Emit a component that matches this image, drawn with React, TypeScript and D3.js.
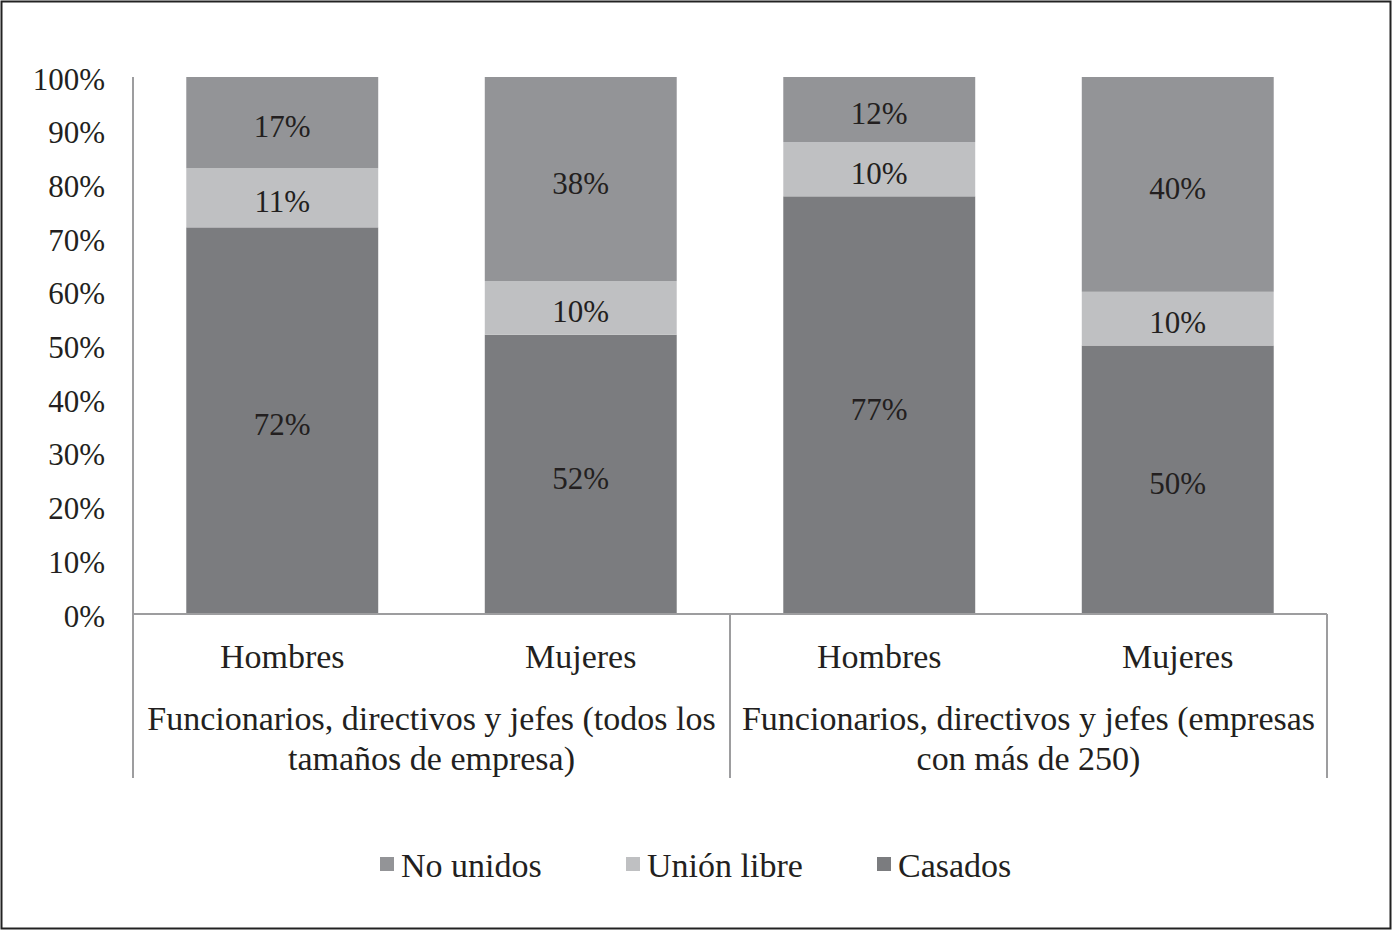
import React, { useEffect, useRef } from "react";
import * as d3 from "d3";

const categories = ["Hombres", "Mujeres", "Hombres", "Mujeres"];
const groupLabels = [
  ["Funcionarios, directivos y jefes (todos los", "tamaños de empresa)"],
  ["Funcionarios, directivos y jefes (empresas", "con más de 250)"],
];
const seriesNames = ["Casados", "Unión libre", "No unidos"];
const casados = [72, 52, 77, 50];
const unionLibre = [11, 10, 10, 10];
const noUnidos = [17, 38, 12, 40];
const yTicks = [0, 0.1, 0.2, 0.3, 0.4, 0.5, 0.6, 0.7, 0.8, 0.9, 1];
const legendOrder = ["No unidos", "Unión libre", "Casados"];
const colors: Record<string, string> = {
  "Casados": "#7b7c7f",
  "Unión libre": "#bfc0c2",
  "No unidos": "#939497",
};

const W = 1392;
const H = 930;
const FONT = "'Liberation Serif', 'DejaVu Serif', serif";

export default function App() {
  const ref = useRef<SVGSVGElement>(null);
  useEffect(() => {
    const svg = d3.select(ref.current);
    svg.selectAll("*").remove();
    svg.append("rect").attr("x", 1.5).attr("y", 1.5).attr("width", W - 3).attr("height", H - 3)
      .attr("fill", "white").attr("stroke", "#222").attr("stroke-width", 2);

    const left = 133, right = 1327, top = 77, bottom = 614;
    const x = d3.scaleBand<number>().domain(d3.range(categories.length)).range([left, right]).padding(0);
    const y = d3.scaleLinear().domain([0, 1]).range([bottom, top]);
    const barW = x.bandwidth() * 0.643;

    const rows = categories.map((c, i) => ({
      i,
      "Casados": casados[i],
      "Unión libre": unionLibre[i],
      "No unidos": noUnidos[i],
    }));
    const stack = d3.stack<any>().keys(seriesNames).offset(d3.stackOffsetExpand);
    const series = stack(rows);

    series.forEach((s) => {
      const g = svg.append("g");
      s.forEach((d, j) => {
        const cx = x(j)! + x.bandwidth() / 2;
        g.append("rect")
          .attr("x", cx - barW / 2)
          .attr("y", y(d[1]))
          .attr("width", barW)
          .attr("height", y(d[0]) - y(d[1]))
          .attr("fill", colors[s.key]);
        g.append("text")
          .attr("x", cx)
          .attr("y", (y(d[0]) + y(d[1])) / 2 + 4)
          .attr("text-anchor", "middle")
          .attr("dominant-baseline", "central")
          .attr("font-family", FONT)
          .attr("font-size", 31)
          .attr("fill", "#231f20")
          .text((rows[j] as any)[s.key] + "%");
      });
    });

    // axes
    const axisColor = "#9d9d9f";
    svg.append("line").attr("x1", left).attr("x2", left).attr("y1", top).attr("y2", 778)
      .attr("stroke", axisColor).attr("stroke-width", 2);
    svg.append("line").attr("x1", left).attr("x2", right).attr("y1", bottom).attr("y2", bottom)
      .attr("stroke", axisColor).attr("stroke-width", 2);
    [left + x.step() * 2, right].forEach((xx) => {
      svg.append("line").attr("x1", xx).attr("x2", xx).attr("y1", bottom).attr("y2", 778)
        .attr("stroke", axisColor).attr("stroke-width", 2);
    });

    yTicks.forEach((t) => {
      svg.append("text")
        .attr("x", 105).attr("y", y(t) + 2)
        .attr("text-anchor", "end").attr("dominant-baseline", "central")
        .attr("font-family", FONT).attr("font-size", 31).attr("fill", "#231f20")
        .text(d3.format(".0%")(t));
    });

    categories.forEach((c, i) => {
      svg.append("text")
        .attr("x", x(i)! + x.bandwidth() / 2).attr("y", 656)
        .attr("text-anchor", "middle").attr("dominant-baseline", "central")
        .attr("font-family", FONT).attr("font-size", 34).attr("fill", "#231f20")
        .text(c);
    });
    groupLabels.forEach((lines, gi) => {
      const cx = left + x.step() * (gi * 2 + 1);
      lines.forEach((ln, li) => {
        svg.append("text")
          .attr("x", cx).attr("y", 718 + li * 40)
          .attr("text-anchor", "middle").attr("dominant-baseline", "central")
          .attr("font-family", FONT).attr("font-size", 34).attr("fill", "#231f20")
          .text(ln);
      });
    });

    const legendX = [380, 626, 877];
    legendOrder.forEach((k, i) => {
      svg.append("rect").attr("x", legendX[i]).attr("y", 857).attr("width", 14).attr("height", 14)
        .attr("fill", colors[k]);
      svg.append("text")
        .attr("x", legendX[i] + 21).attr("y", 865)
        .attr("dominant-baseline", "central")
        .attr("font-family", FONT).attr("font-size", 34).attr("fill", "#231f20")
        .text(k);
    });
  }, []);
  return (
    <>
      <style>{`body{margin:0}`}</style>
      <svg ref={ref} width={W} height={H} style={{ display: "block" }} />
    </>
  );
}
